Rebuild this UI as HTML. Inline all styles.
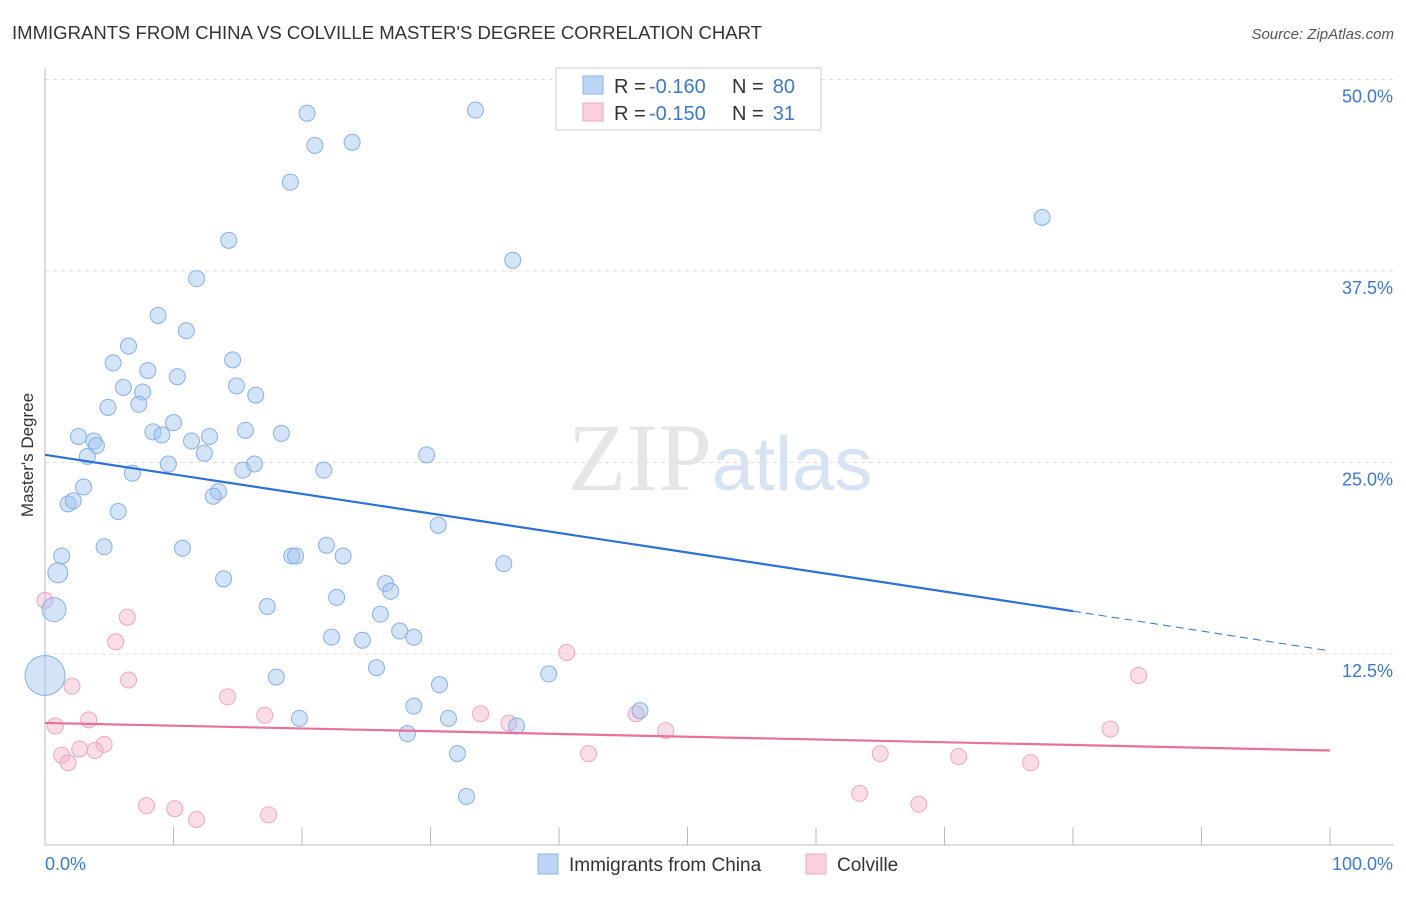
<!DOCTYPE html>
<html><head><meta charset="utf-8"><style>
body{margin:0;background:#fff;font-family:"Liberation Sans",sans-serif}
</style></head><body>
<svg id="chart" width="1406" height="892" xmlns="http://www.w3.org/2000/svg" font-family="Liberation Sans, sans-serif">
<text x="12" y="39" font-size="18" fill="#333" textLength="750" lengthAdjust="spacingAndGlyphs">IMMIGRANTS FROM CHINA VS COLVILLE MASTER'S DEGREE CORRELATION CHART</text>
<text x="1394" y="39" font-size="15" fill="#555" text-anchor="end" font-style="italic">Source: ZipAtlas.com</text>
<text x="720" y="490" font-size="96" text-anchor="middle" fill="#e6e6e6" font-family="Liberation Serif, serif">ZIP<tspan fill="#d6e3f5" font-family="Liberation Sans, sans-serif" font-size="76">atlas</tspan></text>
<text transform="translate(33,455) rotate(-90)" font-size="17" fill="#333" text-anchor="middle">Master's Degree</text>
<g id="grid"></g><g id="axes"></g><g id="marks"></g>
<g>
<rect x="556" y="68" width="265" height="62" fill="#fff" stroke="#ccc"/>
<rect x="583" y="76" width="20" height="18" fill="#bcd5f5" stroke="#8ab4e8"/>
<rect x="583" y="103" width="20" height="18" fill="#fbd0dd" stroke="#f0a8be"/>
<text x="614" y="93" font-size="20" fill="#333">R =</text>
<text x="649" y="93" font-size="20" fill="#3a78d8">-0.160</text>
<text x="732" y="93" font-size="20" fill="#333">N =</text>
<text x="795" y="93" font-size="20" fill="#3a78d8" text-anchor="end">80</text>
<text x="614" y="120" font-size="20" fill="#333">R =</text>
<text x="649" y="120" font-size="20" fill="#3a78d8">-0.150</text>
<text x="732" y="120" font-size="20" fill="#333">N =</text>
<text x="795" y="120" font-size="20" fill="#3a78d8" text-anchor="end">31</text>
</g>
<g>
<rect x="538" y="854" width="20" height="20" fill="#bcd5f5" stroke="#8ab4e8"/>
<text x="569" y="871" font-size="19" fill="#333">Immigrants from China</text>
<rect x="806" y="854" width="20" height="20" fill="#fbd0dd" stroke="#f0a8be"/>
<text x="837" y="871" font-size="19" fill="#333">Colville</text>
</g>
</svg>
<script>
const yTicks=[12.5,25,37.5,50];
const yTickLabels=["12.5%","25.0%","37.5%","50.0%"];
const xTickLabels=["0.0%","100.0%"];
const chinaX=[20.4,33.5,21,23.9,19.1,77.6,14.3,36.4,11.8,8.8,11,6.5,5.3,14.6,8,10.3,6.1,7.6,14.9,16.4,4.9,7.3,10,8.4,2.6,3.8,4,9.1,12.8,11.4,15.6,18.4,3.3,12.4,9.6,15.4,16.3,21.7,29.7,6.8,3,13.5,13.1,1.8,2.2,5.7,30.6,4.6,10.7,1.3,21.9,19.2,19.5,23.2,35.7,1,13.9,26.5,26.9,22.7,0.7,17.3,26.1,27.6,28.7,22.3,24.7,25.8,18,39.2,0,30.7,28.7,19.8,31.4,46.3,36.7,28.2,32.1,32.8];
const chinaY=[47.8,48,45.7,45.9,43.3,41,39.5,38.2,37,34.6,33.6,32.6,31.5,31.7,31,30.6,29.9,29.6,30,29.4,28.6,28.8,27.6,27,26.7,26.4,26.1,26.8,26.7,26.4,27.1,26.9,25.4,25.6,24.9,24.5,24.9,24.5,25.5,24.3,23.4,23.1,22.8,22.3,22.5,21.8,20.9,19.5,19.4,18.9,19.6,18.9,18.9,18.9,18.4,17.8,17.4,17.1,16.6,16.2,15.4,15.6,15.1,14,13.6,13.6,13.4,11.6,11,11.2,11.1,10.5,9.1,8.3,8.3,8.8,7.8,7.3,6,3.2];
const chinaR=[8,8,8,8,8,8,8,8,8,8,8,8,8,8,8,8,8,8,8,8,8,8,8,8,8,8,8,8,8,8,8,8,8,8,8,8,8,8,8,8,8,8,8,8,8,8,8,8,8,8,8,8,8,8,8,10,8,8,8,8,12,8,8,8,8,8,8,8,8,8,20,8,8,8,8,8,8,8,8,8];
const colvilleX=[0,6.4,5.5,40.6,85.1,2.1,6.5,14.2,17.1,3.4,33.9,36.1,46,48.3,82.9,0.8,4.6,2.7,3.9,1.3,1.8,42.3,65,71.1,76.7,63.4,7.9,10.1,11.8,17.4,68];
const colvilleY=[16,14.9,13.3,12.6,11.1,10.4,10.8,9.7,8.5,8.2,8.6,8,8.6,7.5,7.6,7.8,6.6,6.3,6.2,5.9,5.4,6,6,5.8,5.4,3.4,2.6,2.4,1.7,2,2.7];
const chinaTrend=[25.5,15.3,12.7];
const colvilleTrend=[8,6.2];
const X=v=>45+v*12.85, Y=v=>845.5-v*15.32;
const NS="http://www.w3.org/2000/svg";
function mk(p,t,a){const e=document.createElementNS(NS,t);for(const k in a)e.setAttribute(k,a[k]);p.appendChild(e);return e;}
const grid=document.getElementById('grid'),axes=document.getElementById('axes'),marks=document.getElementById('marks');
yTicks.forEach((t,i)=>{const g=mk(grid,'line',{x1:45,x2:1394,y1:Y(t),y2:Y(t),stroke:'#ddd','stroke-dasharray':'4,4'});


const l=mk(axes,'text',{x:1393,y:Y(t)+23,'font-size':18,fill:'#3a78d8','text-anchor':'end'});l.textContent=yTickLabels[i];

});
const ax=mk(axes,'line',{x1:45,x2:1394,y1:845,y2:845,stroke:'#bbb'});


const ay=mk(axes,'line',{x1:45,x2:45,y1:68,y2:845,stroke:'#bbb'});


for(let i=1;i<=10;i++){const t=mk(axes,'line',{x1:X(i*10),x2:X(i*10),y1:827,y2:845,stroke:'#bbb'});

}
[[0,'start',45],[1,'end',1393]].forEach(([i,a,x])=>{const l=mk(axes,'text',{x:x,y:870,'font-size':18,fill:'#3a78d8','text-anchor':a});l.textContent=xTickLabels[i];

});
colvilleX.forEach((v,i)=>{const c=mk(marks,'circle',{cx:X(v),cy:Y(colvilleY[i]),r:8,fill:'rgba(245,170,195,0.4)',stroke:'#eea6bd','stroke-width':1});

});
chinaX.forEach((v,i)=>{const c=mk(marks,'circle',{cx:X(v),cy:Y(chinaY[i]),r:chinaR[i],fill:'rgba(160,195,240,0.45)',stroke:'#86b0e6','stroke-width':1});

});
const t1=mk(marks,'line',{x1:X(0),y1:Y(chinaTrend[0]),x2:X(80),y2:Y(chinaTrend[1]),stroke:'#2a72d8','stroke-width':2.2});


const t2=mk(marks,'line',{x1:X(80),y1:Y(chinaTrend[1]),x2:X(100),y2:Y(chinaTrend[2]),stroke:'#2a72d8','stroke-width':1,'stroke-dasharray':'8,5'});


const t3=mk(marks,'line',{x1:X(0),y1:Y(colvilleTrend[0]),x2:X(100),y2:Y(colvilleTrend[1]),stroke:'#e8709a','stroke-width':2.2});


</script>
</body></html>
